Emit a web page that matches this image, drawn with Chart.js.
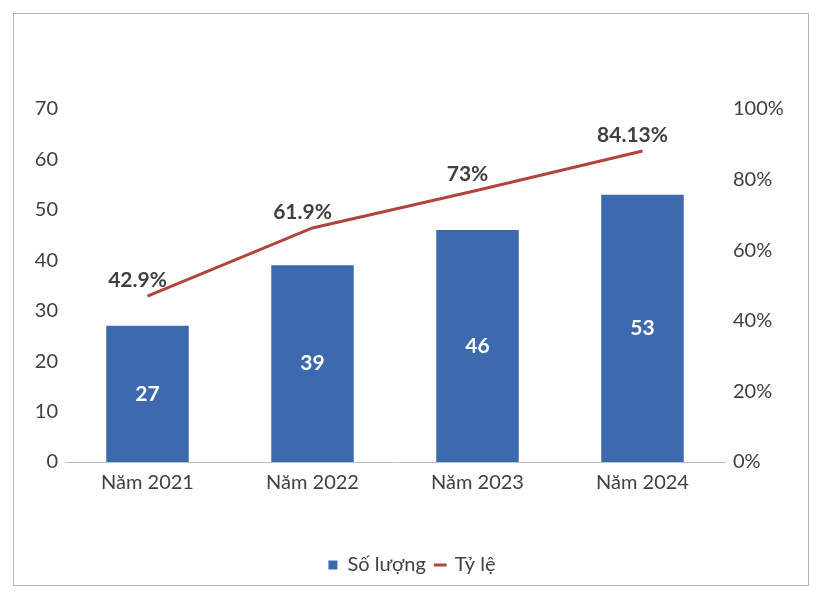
<!DOCTYPE html>
<html>
<head>
<meta charset="utf-8">
<script src="https://cdn.jsdelivr.net/npm/chart.js@4"></script>
<style>
  html, body { margin: 0; padding: 0; background: #fff; }
  #wrap { position: relative; width: 824px; height: 602px; }
  #frame { position: absolute; left: 13px; top: 13px; width: 794px; height: 571px; border: 1px solid #bfb3a8; pointer-events: none; }
  canvas { position: absolute; left: 0; top: 0; }
</style>
</head>
<body>
<div id="wrap">
  <canvas id="myChart" width="824" height="602"></canvas>
  <div id="frame"></div>
</div>
<script>
const years = ['Năm 2021', 'Năm 2022', 'Năm 2023', 'Năm 2024'];
const counts = [27, 39, 46, 53];
// where the line sits on the right axis
const ratePlotted = [47, 66.3, 77, 88.1];
// what the labels on the line say
const rateLabels = ['42.9%', '61.9%', '73%', '84.13%'];
const leftTicks = [0, 10, 20, 30, 40, 50, 60, 70];
const rightTicks = [0, 20, 40, 60, 80, 100];

const FONT = 'Lato, "Open Sans", sans-serif';
const TEXT = '#404040';

// draws the numbers on the bars and the percentages above the line
const valueLabels = {
    id: 'valueLabels',
    afterDatasetsDraw(chart) {
        const c = chart.ctx;
        c.save();
        c.textAlign = 'center';
        c.textBaseline = 'middle';
        c.font = 'bold 21px ' + FONT;

        const bars = chart.getDatasetMeta(0).data;
        c.fillStyle = '#ffffff';
        bars.forEach((bar, i) => {
            c.fillText(String(counts[i]), bar.x, (bar.y + bar.base) / 2);
        });

        const pts = chart.getDatasetMeta(1).data;
        c.fillStyle = TEXT;
        pts.forEach((p, i) => {
            c.fillText(rateLabels[i], p.x - 10, p.y - 16);
        });
        c.restore();
    }
};

const ctx = document.getElementById('myChart').getContext('2d');

let myChart = new Chart(ctx, {
    type: 'bar',
    data: {
        labels: years,
        datasets: [
            {
                label: 'Số lượng',
                data: counts,
                backgroundColor: '#3d69ae',
                barPercentage: 1,
                categoryPercentage: 0.5,
                yAxisID: 'y',
                order: 2
            },
            {
                type: 'line',
                label: 'Tỷ lệ',
                data: ratePlotted,
                borderColor: '#b2443f',
                backgroundColor: '#b2443f',
                borderWidth: 3,
                pointRadius: 0,
                tension: 0,
                fill: false,
                yAxisID: 'y1',
                order: 1
            }
        ]
    },
    options: {
        responsive: false,
        animation: false,
        layout: { padding: { top: 109, left: 0, right: 0, bottom: 17 } },
        plugins: {
            tooltip: { enabled: false },
            legend: {
                position: 'bottom',
                labels: {
                    color: TEXT,
                    font: { family: FONT, size: 20 },
                    usePointStyle: true,
                    boxWidth: 9,
                    boxHeight: 9,
                    padding: 10,
                    generateLabels(chart) {
                        return chart.data.datasets.map((ds, i) => ({
                            text: ds.label,
                            fillStyle: ds.backgroundColor,
                            strokeStyle: ds.borderColor || ds.backgroundColor,
                            lineWidth: i === 1 ? 3 : 0,
                            pointStyle: i === 1 ? 'line' : 'rect',
                            fontColor: TEXT,
                            datasetIndex: i
                        }));
                    }
                }
            }
        },
        scales: {
            x: {
                grid: { display: false, drawTicks: false },
                border: { display: true, color: '#bfbfbf', width: 1 },
                ticks: { color: TEXT, font: { family: FONT, size: 20 }, padding: 9, maxRotation: 0 },
                afterFit(scale) { scale.height = 83; }
            },
            y: {
                position: 'left',
                min: 0,
                max: 70,
                grid: { display: false, drawTicks: false },
                border: { display: false },
                afterBuildTicks(scale) { scale.ticks = leftTicks.map(v => ({ value: v })); },
                ticks: { color: TEXT, font: { family: FONT, size: 20 }, padding: 7 },
                afterFit(scale) { scale.width = 65; }
            },
            y1: {
                position: 'right',
                min: 0,
                max: 100,
                grid: { display: false, drawTicks: false },
                border: { display: false },
                afterBuildTicks(scale) { scale.ticks = rightTicks.map(v => ({ value: v })); },
                ticks: {
                    color: TEXT,
                    font: { family: FONT, size: 20 },
                    padding: 8,
                    callback: v => v + '%'
                },
                afterFit(scale) { scale.width = 99; }
            }
        }
    },
    plugins: [valueLabels]
});
</script>
</body>
</html>
